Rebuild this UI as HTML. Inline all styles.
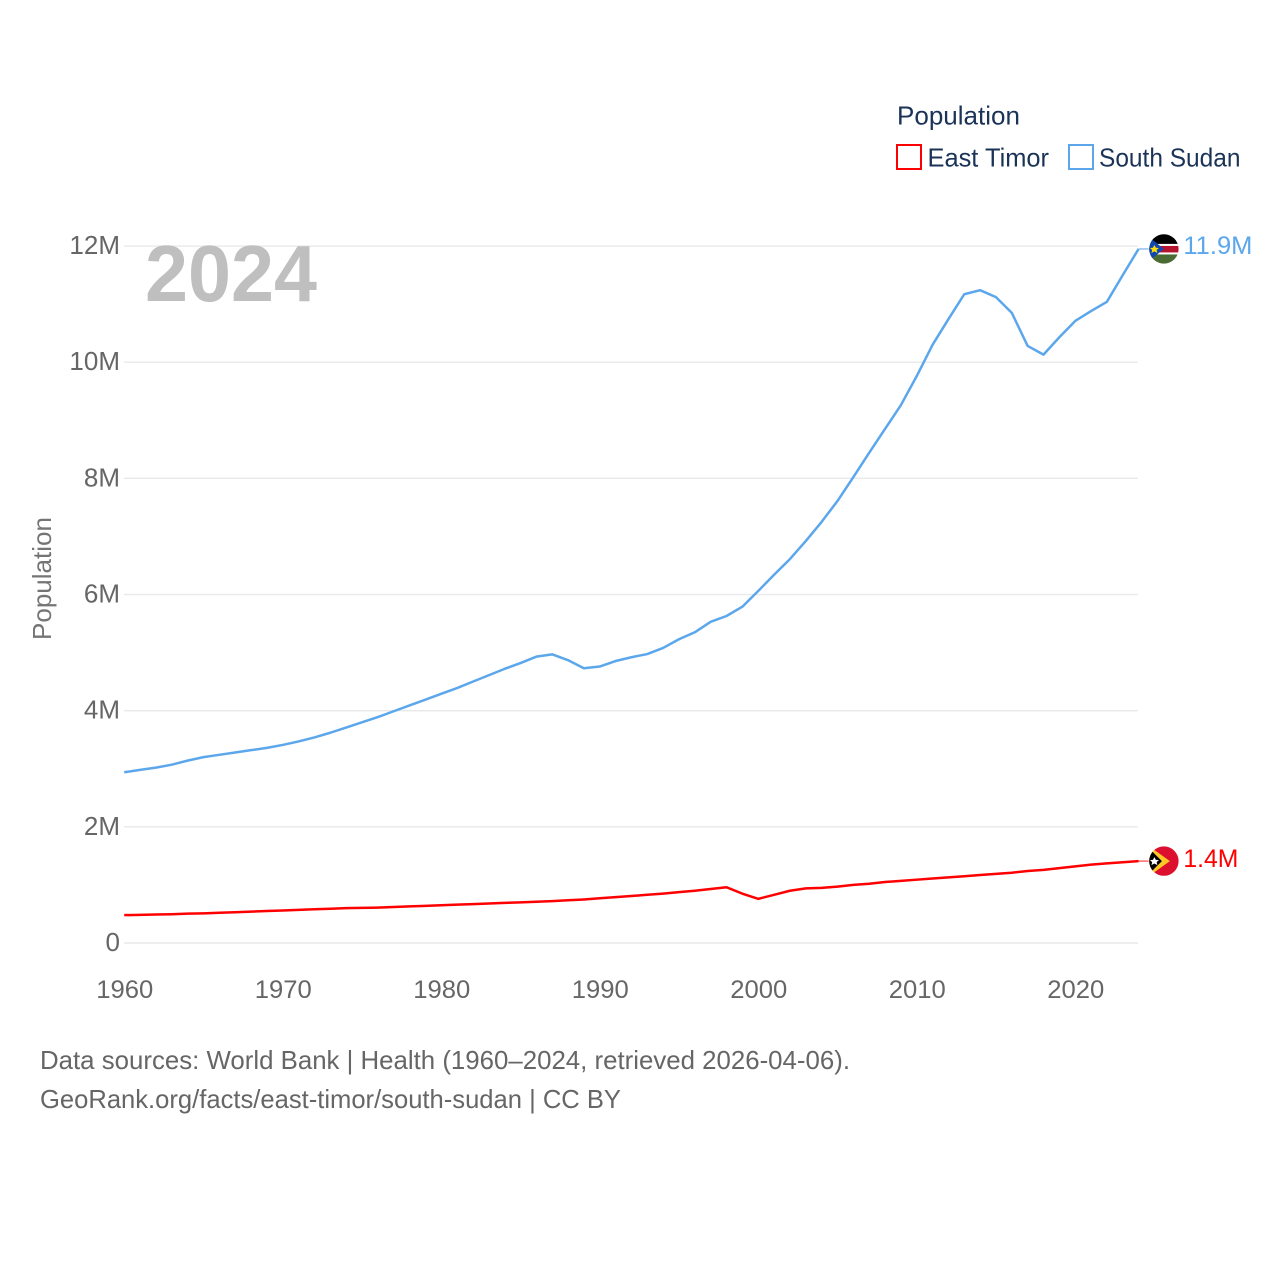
<!DOCTYPE html>
<html lang="en">
<head>
<meta charset="utf-8">
<title>Population: East Timor and South Sudan</title>
<style>
html,body{margin:0;padding:0;background:#fff;width:1280px;height:1280px;overflow:hidden}
svg{display:block}
text{font-family:"Liberation Sans",sans-serif}
</style>
</head>
<body>
<svg id="chart" xmlns="http://www.w3.org/2000/svg" width="1280" height="1280" viewBox="0 0 1280 1280">
  <defs>
    <clipPath id="flag-clip"><circle cx="0" cy="0" r="14.7"/></clipPath>
  </defs>
  <rect width="1280" height="1280" fill="#fff"/>
  <g id="grid"></g>
  <g id="y-axis"></g>
  <g id="x-axis"></g>
  <text x="145" y="301" font-size="80" font-weight="700" fill="#bfbfbf" textLength="172" lengthAdjust="spacingAndGlyphs">2024</text>
  <text transform="translate(51,640) rotate(-90)" font-size="26" fill="#757575" textLength="123" lengthAdjust="spacingAndGlyphs">Population</text>
  <g id="series"></g>

  <g id="flag-south-sudan">
    <g clip-path="url(#flag-clip)">
      <rect x="-15" y="-15" width="30" height="10" fill="#000"/>
      <rect x="-15" y="-5" width="30" height="10.5" fill="#fff"/>
      <rect x="-15" y="-3" width="30" height="6.5" fill="#b5122e"/>
      <rect x="-15" y="5.5" width="30" height="10" fill="#4a6b33"/>
      <polygon points="-15,-12 0,0 -15,12" fill="#0f47af"/>
      <polygon points="-9.5,-4 -8,-1.2 -5,-1 -7.3,1 -6.5,4 -9.5,2.4 -12.5,4 -11.7,1 -14,-1 -11,-1.2" fill="#fcdd09"/>
    </g>
  </g>
  <g id="flag-east-timor">
    <g clip-path="url(#flag-clip)">
      <rect x="-15" y="-15" width="30" height="30" fill="#dc0f2f"/>
      <polygon points="-15,-15 6,0 -15,15" fill="#ffc726"/>
      <polygon points="-15,-13 -2,0 -15,13" fill="#000"/>
      <polygon points="-9.5,-4 -8,-1.2 -5,-1 -7.3,1 -6.5,4 -9.5,2.4 -12.5,4 -11.7,1 -14,-1 -11,-1.2" fill="#fff"/>
    </g>
  </g>
  <g id="value-labels"></g>

  <g>
    <text x="897" y="124.5" font-size="26" fill="#1a3357" textLength="123" lengthAdjust="spacingAndGlyphs">Population</text>
    <g>
      <rect x="897" y="145" width="24" height="24" fill="#fff" stroke="#ff0000" stroke-width="2"/>
      <text x="927.5" y="166.5" font-size="26" fill="#1a3357" textLength="121.5" lengthAdjust="spacingAndGlyphs">East Timor</text>
    </g>
    <g>
      <rect x="1069" y="145" width="24" height="24" fill="#fff" stroke="#5ca7ec" stroke-width="2"/>
      <text x="1099" y="166.5" font-size="26" fill="#1a3357" textLength="141.5" lengthAdjust="spacingAndGlyphs">South Sudan</text>
    </g>
  </g>

  <text x="40" y="1069" font-size="26" fill="#666" textLength="810" lengthAdjust="spacingAndGlyphs">Data sources: World Bank | Health (1960–2024, retrieved 2026-04-06).</text>
  <text x="40" y="1108" font-size="26" fill="#666" textLength="581" lengthAdjust="spacingAndGlyphs">GeoRank.org/facts/east-timor/south-sudan | CC BY</text>
</svg>
<script>
const years = [1960,1961,1962,1963,1964,1965,1966,1967,1968,1969,1970,1971,1972,1973,1974,1975,1976,1977,1978,1979,1980,1981,1982,1983,1984,1985,1986,1987,1988,1989,1990,1991,1992,1993,1994,1995,1996,1997,1998,1999,2000,2001,2002,2003,2004,2005,2006,2007,2008,2009,2010,2011,2012,2013,2014,2015,2016,2017,2018,2019,2020,2021,2022,2023,2024];
const southSudan = [2.94,2.98,3.02,3.07,3.14,3.20,3.24,3.28,3.32,3.36,3.41,3.47,3.54,3.62,3.71,3.80,3.89,3.99,4.09,4.19,4.29,4.39,4.50,4.61,4.72,4.82,4.93,4.97,4.87,4.73,4.76,4.855,4.92,4.975,5.08,5.23,5.35,5.53,5.63,5.79,6.06,6.34,6.61,6.92,7.25,7.61,8.02,8.44,8.85,9.26,9.76,10.30,10.74,11.17,11.24,11.12,10.85,10.28,10.13,10.43,10.71,10.88,11.04,11.50,11.95];
const eastTimor = [0.48,0.485,0.49,0.495,0.505,0.51,0.52,0.53,0.54,0.55,0.56,0.57,0.58,0.59,0.60,0.605,0.61,0.62,0.63,0.64,0.65,0.66,0.67,0.68,0.69,0.70,0.71,0.72,0.735,0.75,0.77,0.79,0.81,0.83,0.85,0.875,0.90,0.93,0.96,0.85,0.76,0.83,0.90,0.94,0.95,0.97,1.00,1.02,1.05,1.07,1.09,1.11,1.13,1.15,1.17,1.19,1.21,1.24,1.26,1.29,1.32,1.35,1.37,1.39,1.41];
const xTickYears = [1960,1970,1980,1990,2000,2010,2020];
const xTickLabels = ["1960","1970","1980","1990","2000","2010","2020"];
const yTickValues = [0,2,4,6,8,10,12];
const yTickLabels = ["0","2M","4M","6M","8M","10M","12M"];

const NS = "http://www.w3.org/2000/svg";
const X0 = 124.2, PX_PER_YEAR = 15.85, Y0 = 943, PX_PER_M = 58.08;
const xScale = function (year) { return X0 + (year - 1960) * PX_PER_YEAR; };
const yScale = function (m) { return Y0 - m * PX_PER_M; };
const grid = document.getElementById("grid");
const yAxis = document.getElementById("y-axis");
const xAxis = document.getElementById("x-axis");
const seriesGroup = document.getElementById("series");
const valueLabels = document.getElementById("value-labels");

function make(tag, attrs, parent, content) {
  const el = document.createElementNS(NS, tag);
  Object.keys(attrs).forEach(function (k) { el.setAttribute(k, attrs[k]); });
  if (content !== undefined) el.textContent = content;
  parent.appendChild(el);
  return el;
}

yTickValues.forEach(function (v, i) {
  const y = yScale(v);
  const line = make("line", {x1: 124, x2: 1138, y1: y, y2: y, stroke: "#e9e9e9", "stroke-width": 1.4}, grid);
  
  
  const label = make("text", {x: 120, y: y + 8, "text-anchor": "end", "font-size": 26, fill: "#666"}, yAxis, yTickLabels[i]);
  
  
});

xTickYears.forEach(function (yr, i) {
  const label = make("text", {x: xScale(yr) + 0.6, y: 998, "text-anchor": "middle", "font-size": 25, fill: "#666", textLength: 57, lengthAdjust: "spacingAndGlyphs"}, xAxis, xTickLabels[i]);
  
  
});

function pathFor(values) {
  return values.map(function (v, i) {
    return (i ? "L" : "M") + xScale(years[i]).toFixed(2) + " " + yScale(v).toFixed(2);
  }).join(" ");
}

function formatValue(v) { return v.toFixed(1) + "M"; }

function lastPoint(values) {
  const i = values.length - 1;
  return {x: xScale(years[i]), y: yScale(values[i]), v: values[i]};
}

const timorPath = make("path", {d: pathFor(eastTimor), fill: "none", stroke: "#ff0000", "stroke-width": 2.5, "stroke-linejoin": "round"}, seriesGroup);



const sudanPath = make("path", {d: pathFor(southSudan), fill: "none", stroke: "#5ca7ec", "stroke-width": 2.5, "stroke-linejoin": "round"}, seriesGroup);



const timorEnd = lastPoint(eastTimor);
const sudanEnd = lastPoint(southSudan);

const timorConnector = make("line", {x1: timorEnd.x, y1: timorEnd.y, x2: timorEnd.x + 10, y2: timorEnd.y, stroke: "#ff6a6a", "stroke-width": 1.5}, seriesGroup);



const sudanConnector = make("line", {x1: sudanEnd.x, y1: sudanEnd.y, x2: sudanEnd.x + 10, y2: sudanEnd.y, stroke: "#8fc2f2", "stroke-width": 1.5}, seriesGroup);



document.getElementById("flag-east-timor").setAttribute("transform", "translate(" + (timorEnd.x + 25.3) + "," + timorEnd.y + ")");
document.getElementById("flag-south-sudan").setAttribute("transform", "translate(" + (sudanEnd.x + 25.3) + "," + sudanEnd.y + ")");

const timorLabel = make("text", {x: timorEnd.x + 44.8, y: timorEnd.y + 6, "font-size": 25, fill: "#ff0000", textLength: 55, lengthAdjust: "spacingAndGlyphs"}, valueLabels, formatValue(timorEnd.v));



const sudanLabel = make("text", {x: sudanEnd.x + 44.8, y: sudanEnd.y + 5, "font-size": 25, fill: "#5ca7ec", textLength: 69, lengthAdjust: "spacingAndGlyphs"}, valueLabels, formatValue(sudanEnd.v));


</script>
</body>
</html>
